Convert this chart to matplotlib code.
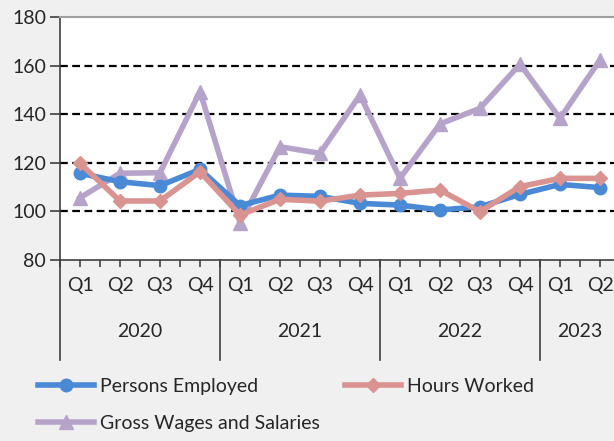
import matplotlib.pyplot as plt
import numpy as np

plt.rcParams['font.family'] = ['Lato', 'DejaVu Sans']

quarters = ["Q1", "Q2", "Q3", "Q4", "Q1", "Q2", "Q3", "Q4",
            "Q1", "Q2", "Q3", "Q4", "Q1", "Q2"]
years = ["2020", "2021", "2022", "2023"]
year_len = [4, 4, 4, 2]

persons = [115.7, 112.2, 110.6, 117.3, 102.4, 106.7, 106.2, 103.3,
           102.6, 100.6, 101.9, 107.0, 111.1, 109.8]
hours = [119.8, 104.3, 104.3, 116.3, 98.5, 105.0, 104.2, 106.7,
         107.4, 108.8, 99.9, 110.2, 113.6, 113.6]
wages = [105.6, 115.7, 115.9, 149.3, 95.4, 126.6, 123.9, 147.9,
         113.6, 136.0, 142.4, 160.6, 138.3, 162.3]

bg = "#f0f0f0"
fig = plt.figure(figsize=(6.14, 4.41), dpi=100, facecolor=bg)
ax = fig.add_axes([60/614, 181/441, 560/614, 243/441])
ax.set_facecolor("white")

x = np.arange(len(quarters))
ax.plot(x, persons, color="#4a89d6", lw=4, marker="o", ms=9,
        label="Persons Employed", zorder=3)
ax.plot(x, hours, color="#d99390", lw=4, marker="D", ms=7,
        label="Hours Worked", zorder=4)
ax.plot(x, wages, color="#b5a3ca", lw=4, marker="^", ms=10,
        label="Gross Wages and Salaries", zorder=2)

ax.set_xlim(-0.5, 13.5)
ax.set_ylim(80, 180)
ax.set_yticks(range(80, 181, 20))
for v in range(100, 180, 20):
    ax.axhline(v, color="black", lw=1.6, ls=(0, (3.5, 2)), zorder=1)

ax.spines["right"].set_visible(False)
ax.spines["top"].set_color("#a0a0a0")
ax.spines["top"].set_linewidth(1.5)
for s in ["left", "bottom"]:
    ax.spines[s].set_color("#404040")
    ax.spines[s].set_linewidth(1.2)

ax.tick_params(axis="y", labelsize=14, length=7, width=1.2, color="#404040",
               labelcolor="#262626", pad=3)
ax.set_xticks(np.arange(-0.5, 13.6, 0.5))
ax.set_xticklabels([])
ax.tick_params(axis="x", length=5, width=1.2, color="#404040")

trans = ax.get_xaxis_transform()
for i, q in enumerate(quarters):
    ax.text(i, -0.105, q, transform=trans, ha="center", va="center",
            fontsize=14, color="#262626")
start = 0
for yr, n in zip(years, year_len):
    ax.plot([start - 0.5, start - 0.5], [0, -0.41], transform=trans,
            color="#404040", lw=1.2, clip_on=False)
    ax.text(start + (n - 1) / 2, -0.295, yr, transform=trans, ha="center",
            va="center", fontsize=14, color="#262626")
    start += n

h, l = ax.get_legend_handles_labels()
order = [0, 2, 1]
fig.legend([h[i] for i in order], [l[i] for i in order], ncol=2,
           loc="upper left", bbox_to_anchor=(22/614, 1 - 362/441),
           frameon=False, fontsize=14, handlelength=2.9, columnspacing=1.3,
           labelspacing=1.05, handletextpad=0.3, labelcolor="#262626",
           borderpad=0.3)

fig.savefig("out.png", dpi=100, facecolor=bg)
